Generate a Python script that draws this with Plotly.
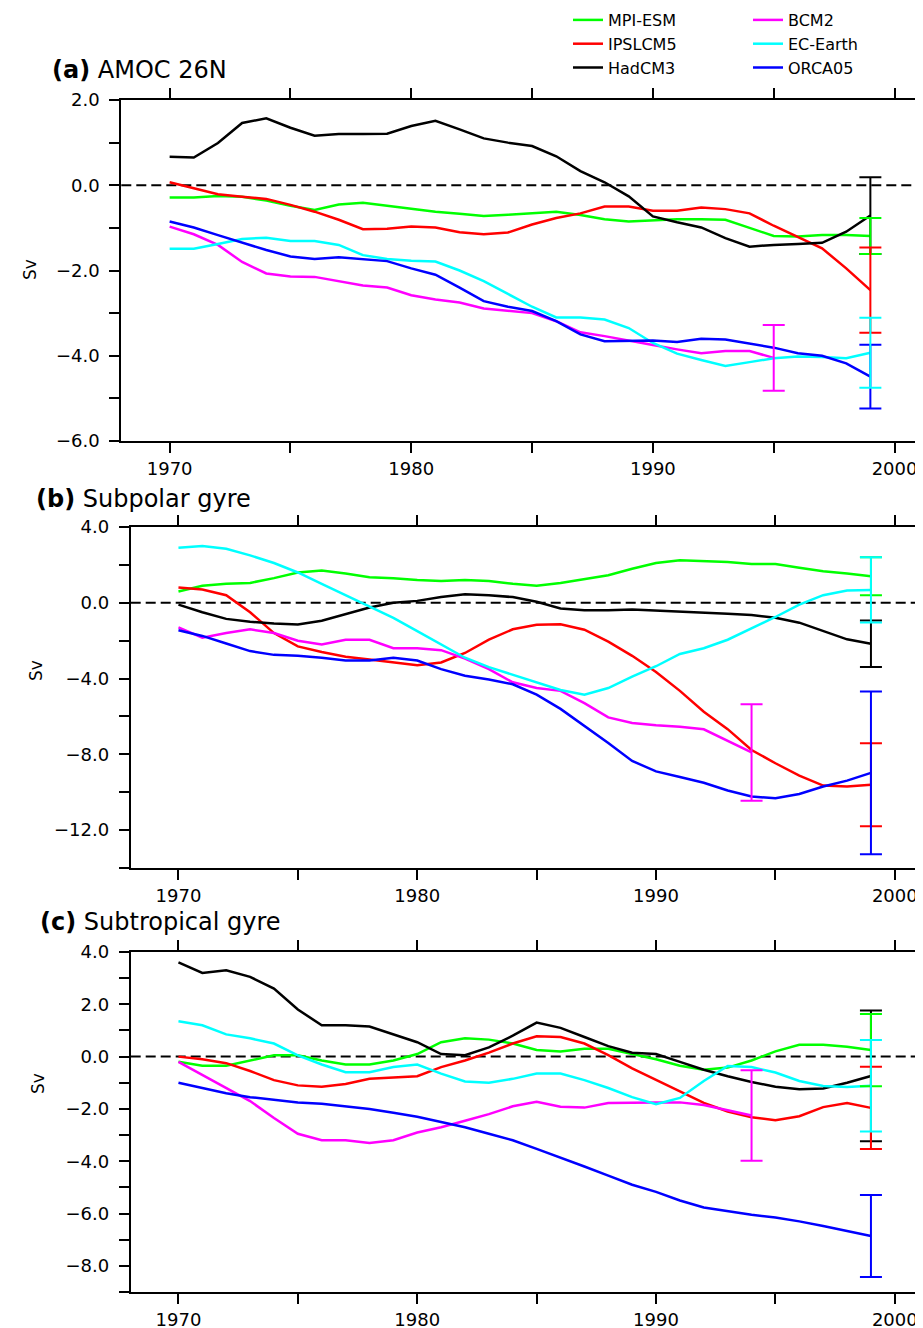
import plotly.graph_objects as go

W, H = 923, 1328

years = list(range(1970, 2000))
models = ["MPI-ESM", "IPSLCM5", "HadCM3", "BCM2", "EC-Earth", "ORCA05"]
colors = ["#00ff00", "#ff0000", "#000000", "#ff00ff", "#00ffff", "#0000ff"]

# ---------------- (a) AMOC 26N ----------------
mpi_a = [-0.29, -0.29, -0.25, -0.27, -0.36, -0.48, -0.58, -0.45, -0.41, -0.48, -0.54, -0.62, -0.67, -0.72, -0.69,
         -0.65, -0.62, -0.70, -0.80, -0.85, -0.82, -0.80, -0.80, -0.81, -1.00, -1.19, -1.20, -1.17, -1.17, -1.19]
ipsl_a = [0.07, -0.07, -0.21, -0.27, -0.32, -0.46, -0.62, -0.81, -1.03, -1.02, -0.97, -0.99, -1.10, -1.15, -1.11,
          -0.92, -0.77, -0.66, -0.50, -0.50, -0.60, -0.60, -0.52, -0.56, -0.66, -0.95, -1.22, -1.48, -1.95, -2.46]
had_a = [0.67, 0.65, 0.99, 1.46, 1.57, 1.35, 1.16, 1.20, 1.20, 1.21, 1.39, 1.51, 1.31, 1.10, 1.00,
         0.92, 0.68, 0.33, 0.07, -0.26, -0.73, -0.87, -0.99, -1.24, -1.44, -1.40, -1.38, -1.35, -1.09, -0.71]
bcm_a = [-0.97, -1.15, -1.40, -1.80, -2.07, -2.14, -2.15, -2.25, -2.35, -2.40, -2.58, -2.68, -2.75, -2.89, -2.95,
         -3.00, -3.19, -3.45, -3.54, -3.65, -3.75, -3.85, -3.94, -3.89, -3.89, -4.05]
ec_a = [-1.49, -1.49, -1.38, -1.26, -1.23, -1.31, -1.31, -1.40, -1.64, -1.73, -1.77, -1.79, -2.00, -2.25, -2.55,
        -2.85, -3.10, -3.10, -3.15, -3.35, -3.70, -3.95, -4.10, -4.24, -4.15, -4.06, -4.02, -4.03, -4.06, -3.93]
orca_a = [-0.85, -0.99, -1.17, -1.34, -1.52, -1.67, -1.73, -1.69, -1.73, -1.78, -1.95, -2.10, -2.40, -2.72, -2.85,
          -2.95, -3.19, -3.50, -3.66, -3.65, -3.64, -3.68, -3.60, -3.62, -3.72, -3.81, -3.94, -4.00, -4.18, -4.49]
err_a = [0.42, 1.00, 0.90, 0.77, 0.82, 0.75]

# ---------------- (b) Subpolar gyre ----------------
mpi_b = [0.60, 0.90, 1.00, 1.05, 1.30, 1.60, 1.70, 1.55, 1.35, 1.30, 1.20, 1.15, 1.20, 1.15, 1.00,
         0.90, 1.05, 1.25, 1.45, 1.80, 2.10, 2.25, 2.20, 2.15, 2.05, 2.05, 1.85, 1.67, 1.55, 1.40]
ipsl_b = [0.80, 0.70, 0.40, -0.50, -1.60, -2.30, -2.60, -2.85, -3.00, -3.15, -3.30, -3.15, -2.65, -1.95, -1.40,
          -1.16, -1.14, -1.42, -2.05, -2.80, -3.65, -4.65, -5.75, -6.67, -7.77, -8.47, -9.12, -9.65, -9.70, -9.61]
had_b = [-0.10, -0.50, -0.85, -1.00, -1.10, -1.15, -0.95, -0.60, -0.25, 0.00, 0.10, 0.30, 0.45, 0.40, 0.30,
         0.05, -0.30, -0.40, -0.40, -0.35, -0.40, -0.45, -0.50, -0.58, -0.65, -0.79, -1.05, -1.49, -1.93, -2.16]
bcm_b = [-1.30, -1.84, -1.60, -1.40, -1.60, -2.00, -2.20, -1.95, -1.95, -2.40, -2.40, -2.50, -2.95, -3.50, -4.20,
         -4.50, -4.65, -5.30, -6.05, -6.35, -6.47, -6.55, -6.68, -7.28, -7.90]
ec_b = [2.90, 3.00, 2.85, 2.50, 2.10, 1.60, 1.00, 0.40, -0.20, -0.80, -1.50, -2.20, -2.90, -3.40, -3.80,
        -4.20, -4.60, -4.85, -4.50, -3.90, -3.35, -2.70, -2.40, -1.95, -1.37, -0.75, -0.10, 0.40, 0.65, 0.68]
orca_b = [-1.45, -1.75, -2.15, -2.55, -2.75, -2.80, -2.90, -3.05, -3.05, -2.90, -3.05, -3.50, -3.85, -4.05, -4.30,
          -4.85, -5.60, -6.50, -7.40, -8.35, -8.90, -9.20, -9.50, -9.91, -10.23, -10.32, -10.09, -9.70, -9.39, -8.98]
err_b = [1.00, 2.19, 1.23, 2.55, 1.72, 4.30]

# ---------------- (c) Subtropical gyre ----------------
mpi_c = [-0.20, -0.35, -0.35, -0.15, 0.05, 0.05, -0.15, -0.30, -0.30, -0.15, 0.10, 0.55, 0.70, 0.65, 0.50,
         0.25, 0.20, 0.30, 0.30, 0.10, -0.10, -0.35, -0.50, -0.42, -0.15, 0.20, 0.45, 0.45, 0.38, 0.25]
ipsl_c = [0.00, -0.10, -0.25, -0.55, -0.90, -1.10, -1.15, -1.05, -0.85, -0.80, -0.75, -0.40, -0.15, 0.15, 0.50,
          0.78, 0.75, 0.50, 0.06, -0.45, -0.90, -1.35, -1.77, -2.10, -2.32, -2.43, -2.28, -1.93, -1.77, -1.96]
had_c = [3.60, 3.20, 3.30, 3.05, 2.60, 1.80, 1.20, 1.20, 1.15, 0.85, 0.55, 0.10, 0.05, 0.35, 0.80,
         1.30, 1.10, 0.75, 0.40, 0.15, 0.10, -0.20, -0.50, -0.75, -0.97, -1.15, -1.25, -1.22, -1.00, -0.74]
bcm_c = [-0.20, -0.70, -1.20, -1.70, -2.35, -2.95, -3.20, -3.20, -3.30, -3.20, -2.90, -2.70, -2.45, -2.20, -1.90,
         -1.73, -1.92, -1.95, -1.77, -1.75, -1.75, -1.75, -1.85, -2.05, -2.25]
ec_c = [1.35, 1.20, 0.85, 0.70, 0.50, 0.05, -0.30, -0.60, -0.60, -0.40, -0.30, -0.65, -0.95, -1.00, -0.85,
        -0.65, -0.65, -0.90, -1.20, -1.55, -1.82, -1.58, -0.93, -0.36, -0.40, -0.61, -0.93, -1.12, -1.16, -1.11]
orca_c = [-1.00, -1.20, -1.40, -1.55, -1.65, -1.75, -1.80, -1.90, -2.00, -2.15, -2.30, -2.50, -2.70, -2.95, -3.20,
          -3.53, -3.85, -4.20, -4.55, -4.90, -5.17, -5.50, -5.77, -5.92, -6.05, -6.15, -6.30, -6.48, -6.67, -6.86]
err_c = [1.38, 1.57, 2.50, 1.73, 1.75, 1.57]

panels = [
    dict(series=[mpi_a, ipsl_a, had_a, bcm_a, ec_a, orca_a], err=err_a),
    dict(series=[mpi_b, ipsl_b, had_b, bcm_b, ec_b, orca_b], err=err_b),
    dict(series=[mpi_c, ipsl_c, had_c, bcm_c, ec_c, orca_c], err=err_c),
]

y_ranges = [[-6, 2], [-14, 4], [-9, 4]]
y_ticks = [list(range(-6, 3, 1)), list(range(-14, 5, 2)), list(range(-9, 5, 1))]
y_labels = [[-6, -4, -2, 0, 2], [-12, -8, -4, 0, 4], [-8, -6, -4, -2, 0, 2, 4]]
x_ticks = list(range(1970, 2001, 5))
x_labels = [1970, 1980, 1990, 2000]

titles = ["<b>(a)</b> AMOC 26N", "<b>(b)</b> Subpolar gyre", "<b>(c)</b> Subtropical gyre"]

# panel pixel geometry (left, right, top, bottom)
geo = [(113.3, 910.7, 92, 433), (122.7, 910.7, 519, 860), (122.7, 910.7, 944, 1284)]

fig = go.Figure()

err_order = [2, 0, 1, 3, 5, 4]
for p, panel in enumerate(panels):
    xa = "x" if p == 0 else f"x{p+1}"
    ya = "y" if p == 0 else f"y{p+1}"
    for i, (name, col) in enumerate(zip(models, colors)):
        s = panel["series"][i]
        fig.add_trace(go.Scatter(
            x=years[:len(s)], y=s, mode="lines", name=name,
            line=dict(color=col, width=2.5),
            xaxis=xa, yaxis=ya,
            showlegend=(p == 0),
            legend="legend" if i < 3 else "legend2",
            hoverinfo="skip",
        ))
    for i in err_order:
        s = panel["series"][i]
        fig.add_trace(go.Scatter(
            x=[years[len(s) - 1]], y=[s[-1]], mode="markers",
            marker=dict(size=1, color=colors[i], opacity=0),
            error_y=dict(type="data", array=[panel["err"][i]], symmetric=True,
                         color=colors[i], thickness=2, width=11),
            xaxis=xa, yaxis=ya, showlegend=False, hoverinfo="skip",
        ))

tickfont = dict(family="DejaVu Sans", size=18, color="black")
layout = dict(
    template="none",
    width=W, height=H,
    margin=dict(l=0, r=0, t=0, b=0, pad=0, autoexpand=False),
    paper_bgcolor="white", plot_bgcolor="white",
    showlegend=True,
)
for p in range(3):
    l, r, t, b = geo[p]
    xk = "xaxis" if p == 0 else f"xaxis{p+1}"
    yk = "yaxis" if p == 0 else f"yaxis{p+1}"
    ya = "y" if p == 0 else f"y{p+1}"
    xa = "x" if p == 0 else f"x{p+1}"
    layout[xk] = dict(
        domain=[l / W, r / W], anchor=ya, range=[1968, 2001], automargin=False,
        tickmode="array", tickvals=x_ticks,
        ticktext=[str(v) if v in x_labels else "" for v in x_ticks],
        ticks="outside", ticklen=10, tickwidth=2, tickcolor="black",
        showline=True, linewidth=2, linecolor="black", mirror="ticks",
        showgrid=False, zeroline=False, tickfont=tickfont,
    )
    layout[yk] = dict(
        domain=[1 - b / H, 1 - t / H], anchor=xa, range=y_ranges[p], automargin=False,
        tickmode="array", tickvals=y_ticks[p],
        ticktext=[(f"{v:.1f}".replace("-", "\u2212") if v in y_labels[p] else "") for v in y_ticks[p]],
        ticks="outside", ticklen=10, tickwidth=2, tickcolor="black",
        showline=True, linewidth=2, linecolor="black", mirror="ticks",
        showgrid=False, zeroline=False, tickfont=tickfont, ticklabelstandoff=6,
    )

fig.update_layout(**layout)

for p in range(3):
    xa = "x" if p == 0 else f"x{p+1}"
    ya = "y" if p == 0 else f"y{p+1}"
    fig.add_shape(type="line", xref=f"{xa} domain", yref=ya, x0=0, x1=1, y0=0, y1=0,
                  line=dict(color="black", width=2, dash="10px,5px"), layer="below")

title_pos = [(42, 62), (26, 491), (30, 914)]
for p in range(3):
    x, y = title_pos[p]
    fig.add_annotation(text=titles[p], xref="paper", yref="paper", x=x / W, y=1 - y / H,
                       xanchor="left", yanchor="middle", showarrow=False,
                       font=dict(family="DejaVu Sans", size=24, color="black"))

sv_pos = [(22, 262), (28, 663), (30, 1075)]
for x, y in sv_pos:
    fig.add_annotation(text="Sv", xref="paper", yref="paper", x=x / W, y=1 - y / H,
                       xanchor="center", yanchor="middle", showarrow=False, textangle=-90,
                       font=dict(family="DejaVu Sans", size=17, color="black"))

legfont = dict(family="DejaVu Sans", size=16, color="black")
fig.update_layout(
    legend=dict(x=560 / W, y=1 + 5 / H, xanchor="left", yanchor="top", font=legfont,
                bgcolor="rgba(0,0,0,0)", tracegroupgap=0, borderwidth=0),
    legend2=dict(x=740 / W, y=1 + 5 / H, xanchor="left", yanchor="top", font=legfont,
                 bgcolor="rgba(0,0,0,0)", tracegroupgap=0, borderwidth=0),
)

fig.write_html("out.html")
